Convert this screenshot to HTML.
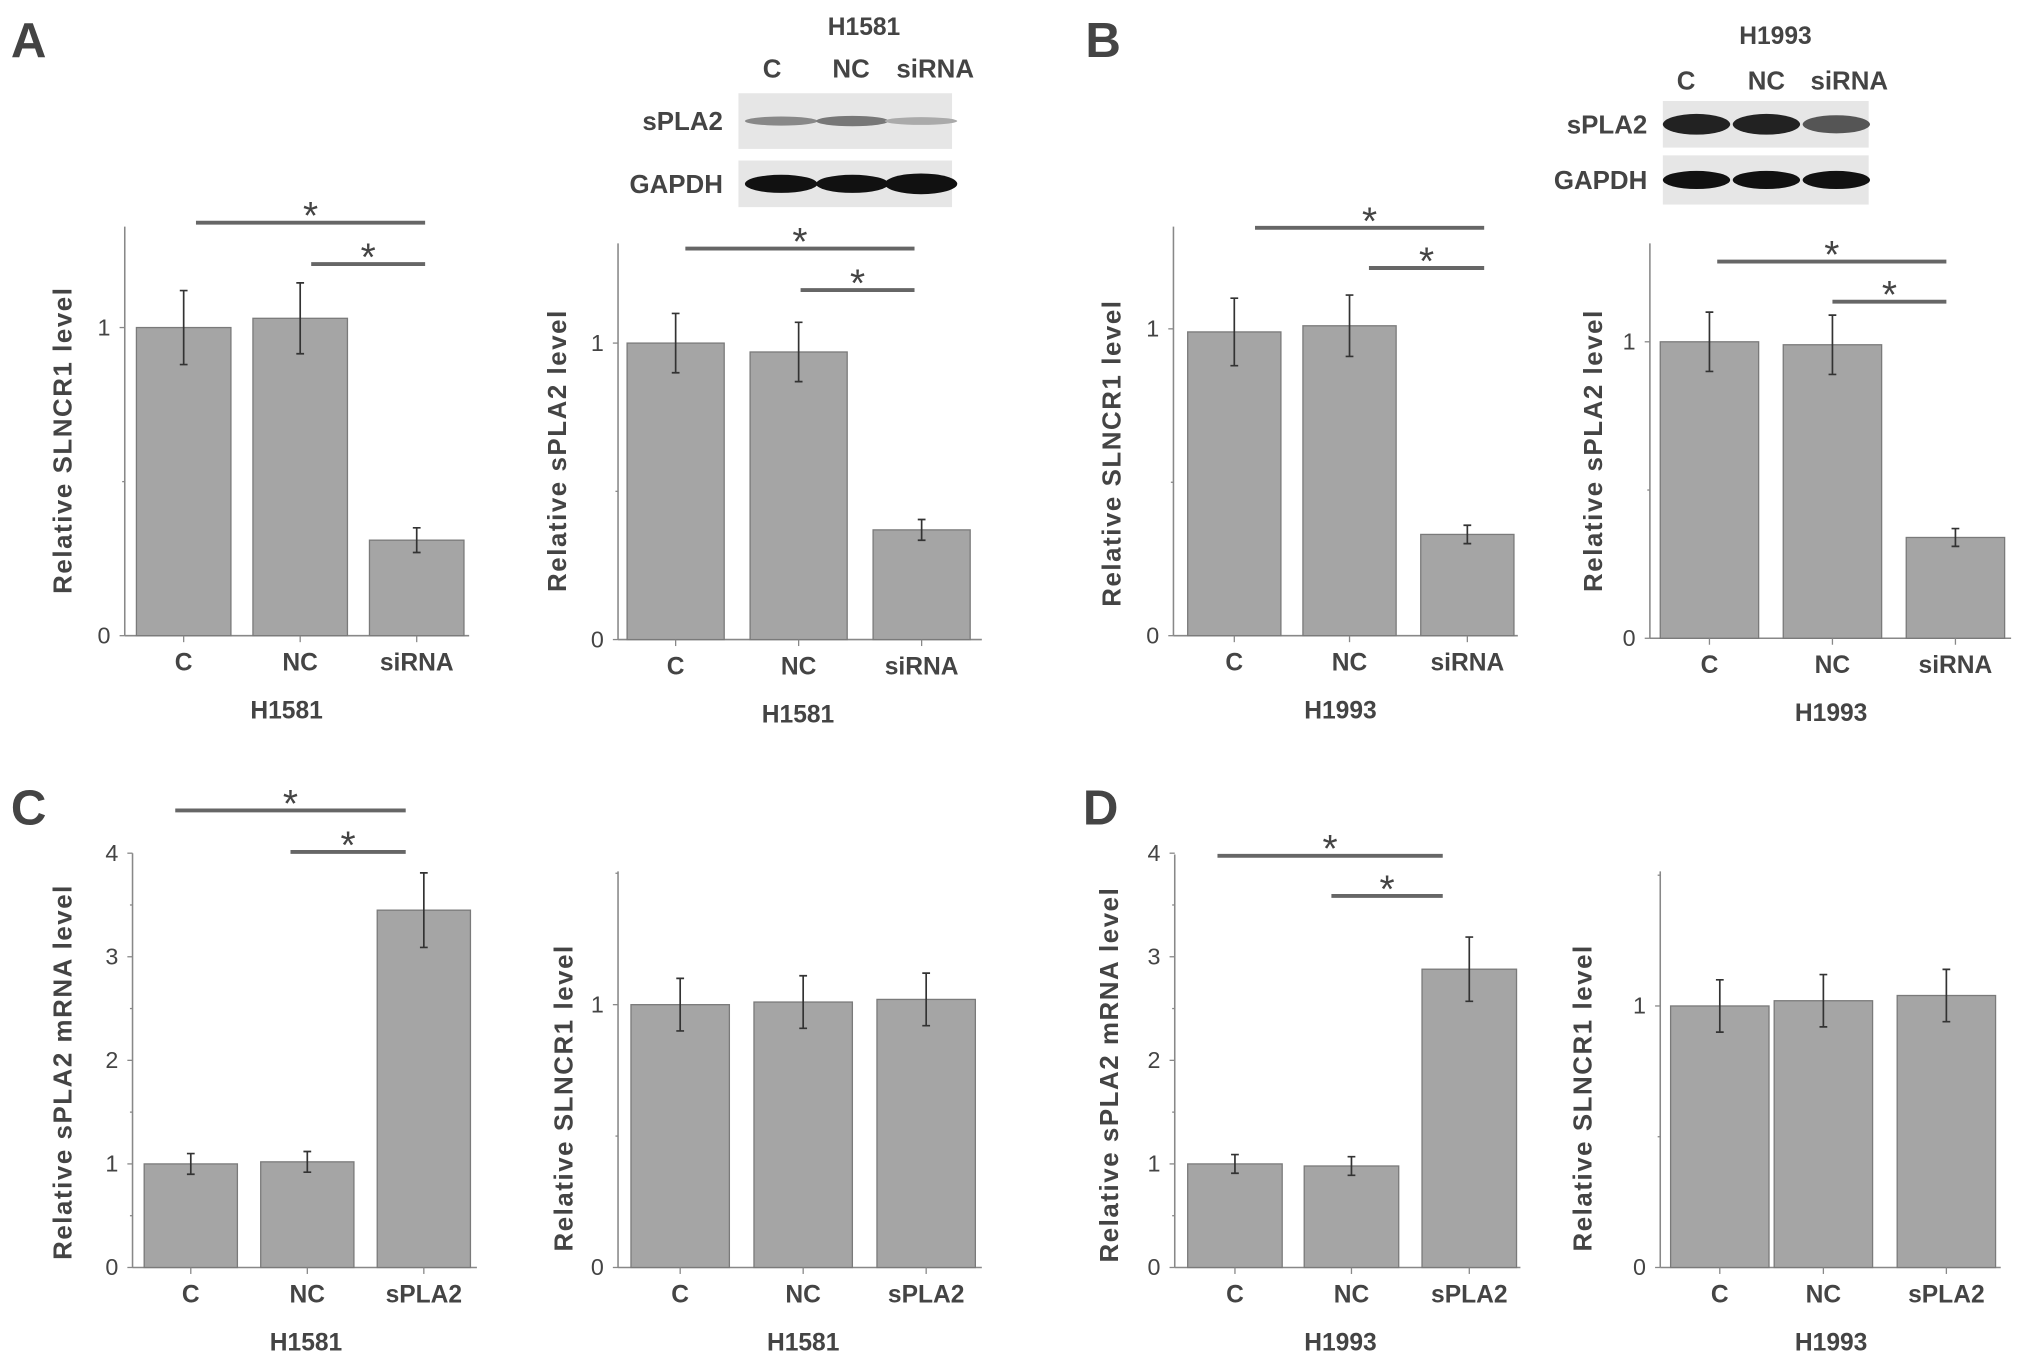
<!DOCTYPE html>
<html><head><meta charset="utf-8"><style>
html,body{margin:0;padding:0;background:#fff;}
svg{display:block;font-family:"Liberation Sans",Arial,sans-serif;}
text{fill:#444;}
</style></head><body>
<svg id="fig" width="2031" height="1362" viewBox="0 0 1568 1052" xmlns="http://www.w3.org/2000/svg">
<g font-size="38" font-weight="bold">
<text x="8" y="44" fill="#222">A</text>
<text x="838" y="44" fill="#222">B</text>
<text x="8" y="637" fill="#222">C</text>
<text x="836" y="637" fill="#222">D</text>
</g>
<g id="blots"></g>
<g id="charts"></g>
</svg>
<script>
const catsSi = ["C","NC","siRNA"];
const catsOe = ["C","NC","sPLA2"];
const aLeftVals = [1.0, 1.03, 0.31];
const aLeftErr = [0.12, 0.115, 0.04];
const aRightVals = [1.0, 0.97, 0.37];
const aRightErr = [0.10, 0.10, 0.035];
const bLeftVals = [0.99, 1.01, 0.33];
const bLeftErr = [0.11, 0.10, 0.03];
const bRightVals = [1.0, 0.99, 0.34];
const bRightErr = [0.10, 0.10, 0.03];
const cLeftVals = [1.0, 1.02, 3.45];
const cLeftErr = [0.10, 0.10, 0.36];
const cRightVals = [1.0, 1.01, 1.02];
const cRightErr = [0.10, 0.10, 0.10];
const dLeftVals = [1.0, 0.98, 2.88];
const dLeftErr = [0.09, 0.09, 0.31];
const dRightVals = [1.0, 1.02, 1.04];
const dRightErr = [0.10, 0.10, 0.10];
const ticksUnit = [0, 1];
const ticksFour = [0, 1, 2, 3, 4];

const NS = "http://www.w3.org/2000/svg";
function mk(parent, tag, attrs, txt){
  const e = document.createElementNS(NS, tag);
  for (const k in attrs) e.setAttribute(k, attrs[k]);
  if (txt !== undefined) e.textContent = txt;
  parent.appendChild(e);
  return e;
}
const charts = document.getElementById("charts");

function chart(o){
  const g = mk(charts, "g", {});
  
  
  const y = v => o.y0 - v * o.ppu;
  const ax = mk(g, "line", {x1:o.ax, y1:o.top, x2:o.ax, y2:o.y0, stroke:"#888", "stroke-width":1.2});
  
  
  const xa = mk(g, "line", {x1:o.ax, y1:o.y0, x2:o.xend, y2:o.y0, stroke:"#888", "stroke-width":1.2});
  
  
  o.ticks.forEach(t => {
    const tl = mk(g, "line", {x1:o.ax-4, y1:y(t), x2:o.ax, y2:y(t), stroke:"#888"});
    
    
    const tx = mk(g, "text", {x:o.ax-11, y:y(t)+6, "text-anchor":"end", "font-size":18}, String(t));
    
    
    if (y(t+0.5) > o.top) {
      const m = mk(g, "line", {x1:o.ax-2, y1:y(t+0.5), x2:o.ax, y2:y(t+0.5), stroke:"#888"});
      
      
    }
  });
  o.cats.forEach((c, i) => {
    const bx = o.bx[i], w = o.bw;
    const cx = bx + w/2;
    const r = mk(g, "rect", {x:bx, y:y(o.vals[i]), width:w, height:o.vals[i]*o.ppu, fill:"#a5a5a5", stroke:"#7a7a7a", "stroke-width":1});
    
    
    const hi = y(o.vals[i]+o.err[i]), lo = y(o.vals[i]-o.err[i]);
    const eb = mk(g, "path", {d:`M${cx},${hi}V${lo}M${cx-3},${hi}H${cx+3}M${cx-3},${lo}H${cx+3}`, stroke:"#333", "stroke-width":1.3, fill:"none"});
    
    
    const xt = mk(g, "line", {x1:cx, y1:o.y0, x2:cx, y2:o.y0+5, stroke:"#888"});
    
    
    const lt = mk(g, "text", {x:cx, y:o.y0+27, "text-anchor":"middle", "font-size":19, "font-weight":"bold"}, c);
    
    
  });
  const xt = mk(g, "text", {x:o.xtx, y:o.y0+64, "text-anchor":"middle", "font-size":19, "font-weight":"bold"}, o.xtitle);
  
  
  const yt = mk(g, "text", {x:0, y:0, "text-anchor":"middle", "font-size":20, "font-weight":"bold", "letter-spacing":1.2, transform:`translate(${o.ytx},${o.yty}) rotate(-90)`}, o.ytitle);
  
  
  (o.sig||[]).forEach(s => {
    const l = mk(g, "line", {x1:s[0], y1:s[2], x2:s[1], y2:s[2], stroke:"#666", "stroke-width":3});
    
    
    const st = mk(g, "text", {x:(s[0]+s[1])/2, y:s[2]+5, "text-anchor":"middle", "font-size":30, fill:"#222"}, "*");
    
    
  });
}

chart({name:"chart-a-slncr1", cats:catsSi, vals:aLeftVals, err:aLeftErr, ticks:ticksUnit, ax:96, top:175, y0:491, ppu:238, xend:362, bx:[105,195,285], bw:73, xtitle:"H1581", xtx:221, ytitle:"Relative SLNCR1 level", ytx:55, yty:340, sig:[[151,328,172],[240,328,204]]});
chart({name:"chart-a-spla2", cats:catsSi, vals:aRightVals, err:aRightErr, ticks:ticksUnit, ax:477, top:188, y0:494, ppu:229, xend:758, bx:[484,579,674], bw:75, xtitle:"H1581", xtx:616, ytitle:"Relative sPLA2 level", ytx:437, yty:348, sig:[[529,706,192],[618,706,224]]});
chart({name:"chart-b-slncr1", cats:catsSi, vals:bLeftVals, err:bLeftErr, ticks:ticksUnit, ax:906, top:175, y0:491, ppu:237, xend:1172, bx:[917,1006,1097], bw:72, xtitle:"H1993", xtx:1035, ytitle:"Relative SLNCR1 level", ytx:865, yty:350, sig:[[969,1146,176],[1057,1146,207]]});
chart({name:"chart-b-spla2", cats:catsSi, vals:bRightVals, err:bRightErr, ticks:ticksUnit, ax:1274, top:188, y0:493, ppu:229, xend:1553, bx:[1282,1377,1472], bw:76, xtitle:"H1993", xtx:1414, ytitle:"Relative sPLA2 level", ytx:1237, yty:348, sig:[[1326,1503,202],[1415,1503,233]]});
chart({name:"chart-c-spla2-mrna", cats:catsOe, vals:cLeftVals, err:cLeftErr, ticks:ticksFour, ax:102, top:659, y0:979, ppu:80, xend:368, bx:[111,201,291], bw:72, xtitle:"H1581", xtx:236, ytitle:"Relative sPLA2 mRNA level", ytx:55, yty:828, sig:[[135,313,626],[224,313,658]]});
chart({name:"chart-c-slncr1", cats:catsOe, vals:cRightVals, err:cRightErr, ticks:ticksUnit, ax:477, top:673, y0:979, ppu:203, xend:758, bx:[487,582,677], bw:76, xtitle:"H1581", xtx:620, ytitle:"Relative SLNCR1 level", ytx:442, yty:848});
chart({name:"chart-d-spla2-mrna", cats:catsOe, vals:dLeftVals, err:dLeftErr, ticks:ticksFour, ax:907, top:660, y0:979, ppu:80, xend:1174, bx:[917,1007,1098], bw:73, xtitle:"H1993", xtx:1035, ytitle:"Relative sPLA2 mRNA level", ytx:863, yty:830, sig:[[940,1114,661],[1028,1114,692]]});
chart({name:"chart-d-slncr1", cats:catsOe, vals:dRightVals, err:dRightErr, ticks:ticksUnit, ax:1282, top:673, y0:979, ppu:202, xend:1545, bx:[1290,1370,1465], bw:76, xtitle:"H1993", xtx:1414, ytitle:"Relative SLNCR1 level", ytx:1229, yty:848});

const blots = document.getElementById("blots");
function blot(o){
  const g = mk(blots, "g", {});
  
  
  const h = mk(g, "text", {x:o.hx, y:o.hy, "text-anchor":"middle", "font-size":19, "font-weight":"bold"}, o.title);
  
  
  o.lanes.forEach((l, i) => {
    const t = mk(g, "text", {x:o.lx[i], y:o.ly, "text-anchor":"middle", "font-size":20, "font-weight":"bold"}, l);
    
    
  });
  o.rows.forEach((r, j) => {
    const box = mk(g, "rect", {x:o.bx, y:r.y, width:o.bw, height:r.h, fill:"#e6e6e6"});
    
    
    const lb = mk(g, "text", {x:o.bx-12, y:r.y + r.h/2 + 7, "text-anchor":"end", "font-size":20, "font-weight":"bold"}, r.label);
    
    
    o.bandx.forEach((bx, i) => {
      const e = mk(g, "ellipse", {cx:bx, cy:r.y + r.h/2, rx:o.brx, ry:r.bh[i], fill:r.col[i]});
      
      
    });
  });
}
blot({name:"western-blot-h1581", title:"H1581", hx:667, hy:27, lanes:catsSi, lx:[596,657,722], ly:60, bx:570, bw:165, brx:28, bandx:[603,658,711],
  rows:[{label:"sPLA2", y:72, h:43, bh:[3.5,4,3], col:["#888","#777","#aaa"]},{label:"GAPDH", y:124, h:36, bh:[7,7,8], col:["#111","#111","#111"]}]});
blot({name:"western-blot-h1993", title:"H1993", hx:1371, hy:34, lanes:catsSi, lx:[1302,1364,1428], ly:69, bx:1284, bw:159, brx:26, bandx:[1310,1364,1418],
  rows:[{label:"sPLA2", y:78, h:36, bh:[8,8,7], col:["#222","#222","#555"]},{label:"GAPDH", y:120, h:38, bh:[7,7,7], col:["#111","#111","#111"]}]});
</script>
</body></html>
